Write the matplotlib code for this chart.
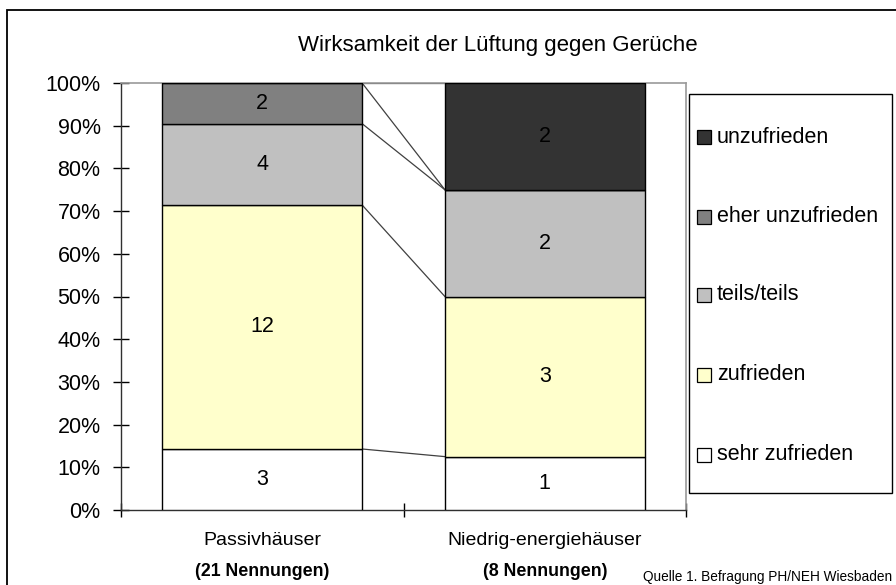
import matplotlib
matplotlib.use("Agg")
import matplotlib.pyplot as plt
from matplotlib.patches import Rectangle
from matplotlib.transforms import blended_transform_factory
import numpy as np

plt.rcParams['font.family'] = ['Liberation Sans', 'DejaVu Sans']

categories = ["Passivhäuser", "Niedrig-energiehäuser"]
counts_labels = ["(21 Nennungen)", "(8 Nennungen)"]
series_names = ["sehr zufrieden", "zufrieden", "teils/teils", "eher unzufrieden", "unzufrieden"]
series_colors = ["#FFFFFF", "#FFFFCC", "#C0C0C0", "#808080", "#333333"]
counts = {
    "sehr zufrieden": [3, 1],
    "zufrieden": [12, 3],
    "teils/teils": [4, 2],
    "eher unzufrieden": [2, 0],
    "unzufrieden": [0, 2],
}
yticks = [0, 10, 20, 30, 40, 50, 60, 70, 80, 90, 100]
title = "Wirksamkeit der Lüftung gegen Gerüche"
source = "Quelle 1. Befragung PH/NEH Wiesbaden"

W, H = 896, 585
fig = plt.figure(figsize=(W / 100, H / 100), dpi=100)
ax = fig.add_axes([121 / W, 1 - 510 / H, 565 / W, 427 / H])

FS = 15.5

x = np.arange(len(categories))
totals = np.sum([counts[s] for s in series_names], axis=0)
width = 0.707
bottom = np.zeros(len(categories))
cums = [bottom.copy()]
for name, col in zip(series_names, series_colors):
    vals = np.array(counts[name], dtype=float)
    pct = vals / totals * 100
    ax.bar(x, pct, width, bottom=bottom, color=col, edgecolor='black', linewidth=1.0, zorder=3)
    for i in range(len(x)):
        if vals[i] > 0:
            ax.text(x[i], bottom[i] + pct[i] / 2, f"{int(vals[i])}", ha='center', va='center',
                    fontsize=FS, zorder=4)
    bottom = bottom + pct
    cums.append(bottom.copy())

# series connector lines
for c in cums[1:]:
    ax.plot([x[0] + width / 2, x[1] - width / 2], [c[0], c[1]], color='#404040', lw=0.9, zorder=2)

ax.set_xlim(-0.5, 1.5)
ax.set_ylim(0, 100)
ax.set_yticks(yticks)
ax.set_yticklabels([f"{t}%" for t in yticks], fontsize=FS)
ax.set_xticks([-0.5, 0.5, 1.5])
ax.set_xticklabels([])
ax.set_xticks(x, minor=True)
ax.set_xticklabels(categories, minor=True, fontsize=14)
ax.tick_params(axis='x', which='minor', length=0, pad=16)
ax.tick_params(axis='x', which='major', direction='inout', length=10, width=1)
ax.tick_params(axis='y', direction='inout', length=11.5, width=1, pad=9)
for s in ['top', 'right']:
    ax.spines[s].set_color('#9a9a9a')
    ax.spines[s].set_linewidth(1.2)
for s in ['left', 'bottom']:
    ax.spines[s].set_color('#303030')
    ax.spines[s].set_linewidth(1.0)

trans = blended_transform_factory(ax.transData, fig.transFigure)
for xi, lab in zip(x, counts_labels):
    ax.text(xi, 1 - 572 / H, lab, transform=trans, ha='center', va='center',
            fontsize=12.8, fontweight='bold')

fig.text(498 / W, 1 - 45 / H, title, ha='center', va='center', fontsize=16)

# legend box
fig.patches.append(Rectangle((689 / W, 1 - 493 / H), (892 - 689) / W, (493 - 94) / H,
                             transform=fig.transFigure, fill=False, ec='black', lw=1.0))
leg_y = [455, 375, 295, 217, 137]
for name, col, yy in zip(series_names, series_colors, leg_y):
    fig.patches.append(Rectangle((697 / W, 1 - (yy + 7) / H), 14 / W, 14 / H,
                                 transform=fig.transFigure, fc=col, ec='black', lw=0.9))
    fig.text(717 / W, 1 - yy / H, name, ha='left', va='center', fontsize=FS)

# outer frame
fig.patches.append(Rectangle((7 / W, -0.1), 2, 1.1 - 10 / H, transform=fig.transFigure,
                             fill=False, ec='black', lw=1.3))

fig.text(892 / W, 1 - 577 / H, source, ha='right', va='center', fontsize=9.8)

fig.savefig("out.png", dpi=100)
